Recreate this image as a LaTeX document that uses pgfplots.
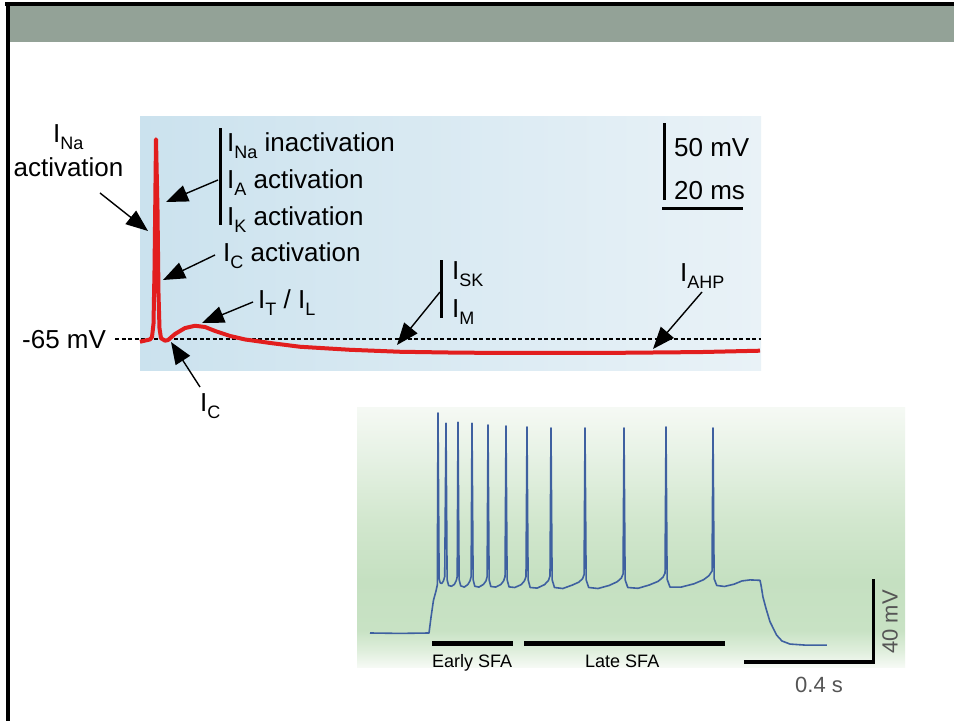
\documentclass[border=0pt]{standalone}
\usepackage{pgfplots}
\pgfplotsset{compat=1.18}
\usepackage{fontspec}
\setmainfont{Liberation Sans}
\usetikzlibrary{arrows.meta}
\definecolor{hdr}{RGB}{147,162,151}
\definecolor{tracered}{RGB}{226,30,30}
\definecolor{traceblue}{RGB}{62,96,160}
\definecolor{bgL}{RGB}{203,226,238}
\definecolor{bgR}{RGB}{233,242,247}
\definecolor{gA}{RGB}{246,250,245}
\definecolor{gB}{RGB}{222,238,219}
\definecolor{gC}{RGB}{200,226,196}
\definecolor{gD}{RGB}{197,224,193}
\definecolor{gE}{RGB}{210,231,206}
\definecolor{gF}{RGB}{229,241,227}
\definecolor{gG}{RGB}{245,249,244}
\definecolor{scalegray}{RGB}{85,85,85}
\pgfdeclareverticalshading{greenbg}{100bp}{color(0bp)=(gA); color(25bp)=(gA); color(28.3bp)=(gB); color(32.1bp)=(gC); color(41.8bp)=(gD); color(53.4bp)=(gE); color(65bp)=(gF); color(75bp)=(gG); color(100bp)=(gG)}
\newcommand\bigf{\fontsize{26}{30}\selectfont}
\newcommand\sub[1]{\raisebox{-7pt}{\fontsize{18}{20}\selectfont #1}}
\begin{document}
\begin{tikzpicture}[x=1pt,y=1pt]
\useasboundingbox (0,0) rectangle (954,721);
\fill[white] (0,0) rectangle (954,721);
\fill[hdr] (8,679) rectangle (954,715);
\fill[black] (5,715) rectangle (954,719);
\fill[black] (6,0) rectangle (9.5,719);
% backgrounds
\shade[left color=bgL, right color=bgR] (140,350) rectangle (761,604);
\shade[shading=greenbg] (357,54) rectangle (905,313);
% top axis: single action potential
\begin{axis}[at={(140pt,350pt)}, anchor=south west, scale only axis,
  width=621pt, height=254pt, xmin=0, xmax=155.25, ymin=-86.05, ymax=81.05,
  hide axis, clip=false]
\draw[black, line width=1.3pt, dash pattern=on 4pt off 2.5pt] (axis cs:-6.25,-65) -- (axis cs:155.25,-65);
\addplot[tracered, line width=4pt, line join=round, no marks] coordinates {
(0,-66.8) (2.5,-65.3) (3.0,-63.7) (3.375,-55) (3.625,-20) (4.0,66.4) (4.375,20)
(4.625,-35) (4.875,-58) (5.25,-64.5) (6.25,-66.1) (7.0,-65.7) (8.75,-61.7)
(11.25,-57.8) (13.75,-56.3) (16.25,-57.1) (18.75,-59.7) (22.5,-63) (26.25,-65.3)
(32.5,-67.6) (40,-70.1) (52.5,-72.1) (65,-73.4) (77.5,-73.9) (90,-74.2)
(115,-74.2) (140,-73.6) (155,-72.7)};
\end{axis}
% bottom axis: spike train
\begin{axis}[at={(358pt,55pt)}, anchor=south west, scale only axis,
  width=547pt, height=258pt, xmin=0, xmax=1709.4, ymin=-86.1, ymax=39.76,
  hide axis, clip=false]
\addplot[traceblue, line width=1.6pt, line join=round, no marks] coordinates {
(37.5,-70.0) (131.25,-70.2) (221.9,-70.0) (228.1,-62.4) (235.9,-54.0)
(243.75,-49.5) (247.8,-46.6) (250,37.3)
(253.5,-43.5) (257,-45.6) (262,-45.8) (267,-44.6) (271,-42.5) (275,32.4)
(278.5,-44) (283,-46.8) (292,-47.2) (301,-46.3) (307,-44.5) (310,-42.5) (312.5,32.9)
(316,-44) (321,-47) (332,-47.6) (343,-46.4) (350,-44.6) (353.5,-42.5) (356.25,32.4)
(359.75,-44) (365,-47.2) (378,-47.6) (392,-46.3) (400,-44.6) (403.5,-42.5) (406.25,31.5)
(409.75,-44) (415,-47.3) (430,-47.6) (446,-46.4) (455,-44.6) (459.5,-42.5) (462.5,31.0)
(466,-44) (472,-47.5) (490,-47.8) (510,-46.4) (520,-44.6) (525,-42.5) (528.1,30.5)
(531.6,-44) (538,-47.8) (560,-48.1) (583,-46.4) (595,-44.4) (600,-42.2) (603.1,30.0)
(606.6,-44) (614,-47.8) (640,-48.3) (670,-46.6) (690,-45.2) (702,-43.5) (706.5,-41.5) (709.4,30.0)
(712.9,-44) (721,-47.8) (750,-48.3) (785,-46.8) (810,-45.0) (823,-43.2) (828.3,-41.2) (831.25,30.0)
(834.75,-44) (843,-47.8) (875,-48.2) (910,-46.6) (938,-44.8) (953,-42.8) (959.5,-40.8) (962.5,30.5)
(966,-43.8) (975,-47.6) (1010,-47.6) (1050,-46) (1080,-44) (1097,-42) (1106.4,-39.8) (1109.4,30.0)
(1112.9,-43.5) (1121,-46.8) (1145,-47.3) (1175,-46.2) (1200,-44.6) (1225,-44.1) (1256.25,-44.3)
(1259.4,-46.6) (1265.6,-52.5) (1275,-58.0) (1287.5,-64.5) (1308,-71.0) (1325,-73.9)
(1350,-75.4) (1396.9,-75.9) (1465.6,-75.9)};
\end{axis}
% top annotations
\node[anchor=base west, inner sep=0] at (53,578) {\bigf I\sub{Na}};
\node[anchor=base, inner sep=0] at (68.5,544) {\bigf activation};
\fill[black] (218.5,496) rectangle (221.5,593);
\node[anchor=base west, inner sep=0] at (227,569) {\bigf I\sub{Na} inactivation};
\node[anchor=base west, inner sep=0] at (227,532) {\bigf I\sub{A} activation};
\node[anchor=base west, inner sep=0] at (227,495) {\bigf I\sub{K} activation};
\node[anchor=base west, inner sep=0] at (223,459) {\bigf I\sub{C} activation};
\node[anchor=base west, inner sep=0] at (258,412) {\bigf I\sub{T} / I\sub{L}};
\node[anchor=base west, inner sep=0] at (200,309) {\bigf I\sub{C}};
\node[anchor=base west, inner sep=0] at (22,372.5) {\bigf -65 mV};
\node[anchor=base west, inner sep=0] at (452,441) {\bigf I\sub{SK}};
\node[anchor=base west, inner sep=0] at (452,403) {\bigf I\sub{M}};
\fill[black] (439.5,403) rectangle (442.5,461);
\node[anchor=base west, inner sep=0] at (680,439) {\bigf I\sub{AHP}};
\node[anchor=base west, inner sep=0] at (674,564) {\bigf 50 mV};
\node[anchor=base west, inner sep=0] at (674,521) {\bigf 20 ms};
\fill[black] (662.5,521) rectangle (666,598);
\fill[black] (662,510.5) rectangle (743,514);
% arrows
\begin{scope}[line width=1.4pt, -{Triangle[length=22pt,width=17pt]}]
\draw (100,528) -- (148,490);
\draw (218,541) -- (166,519);
\draw (215,466) -- (163,441);
\draw (253,419) -- (202,398);
\draw (200,334) -- (171,379);
\draw (440,429) -- (397,376);
\draw (702,429) -- (653,372);
\end{scope}
% bottom annotations
\fill[black] (432,74.5) rectangle (513,79.5);
\fill[black] (524,74.5) rectangle (725,79.5);
\node[anchor=base west, inner sep=0] at (432,54) {\fontsize{18}{20}\selectfont Early SFA};
\node[anchor=base west, inner sep=0] at (585,54) {\fontsize{18}{20}\selectfont Late SFA};
\fill[black] (871.5,57.5) rectangle (875,142);
\fill[black] (744,57.5) rectangle (875,61);
\node[rotate=90, anchor=center, inner sep=0, text=scalegray] at (890,99) {\fontsize{22}{24}\selectfont 40 mV};
\node[anchor=base, inner sep=0, text=scalegray] at (819,29) {\fontsize{22}{24}\selectfont 0.4 s};
\end{tikzpicture}
\end{document}
